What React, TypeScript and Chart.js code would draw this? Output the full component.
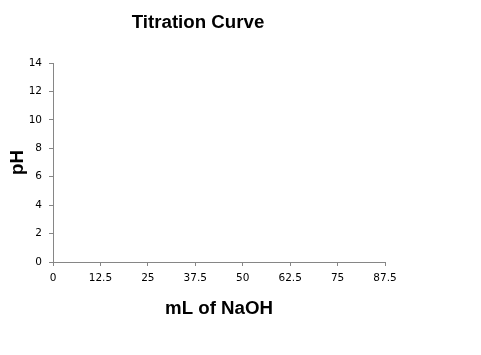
import React, { useEffect, useRef } from "react";
import { Chart, registerables } from "chart.js";

Chart.register(...registerables);

// Data (the reference chart shows no plotted points)
const volumeNaOH: number[] = [];
const phValues: number[] = [];
const xTicks = [0, 12.5, 25, 37.5, 50, 62.5, 75, 87.5];
const yTicks = [0, 2, 4, 6, 8, 10, 12, 14];
const chartTitle = "Titration Curve";
const xTitle = "mL of NaOH";
const yTitle = "pH";

const AXIS = "#868686";
const TICK_FONT = { family: "'DejaVu Sans', Verdana, sans-serif", size: 10.5 };
const TITLE_FONT = { family: "'Liberation Sans', Arial, sans-serif", size: 18.7, weight: "bold" as const, lineHeight: 1.2 };

const titlePlugin = {
  id: "chartTitleText",
  afterDraw(chart: Chart) {
    const ctx = chart.ctx;
    ctx.save();
    ctx.font = `bold ${TITLE_FONT.size}px ${TITLE_FONT.family}`;
    ctx.fillStyle = "#000";
    ctx.textAlign = "center";
    ctx.textBaseline = "middle";
    ctx.fillText(chartTitle, 198, 23);
    ctx.restore();
  },
};

export default function App() {
  const ref = useRef<HTMLCanvasElement | null>(null);
  useEffect(() => {
    if (!ref.current) return;
    const points = volumeNaOH.map((x, i) => ({ x, y: phValues[i] }));
    const chart = new Chart(ref.current, {
      type: "scatter",
      data: {
        datasets: [
          {
            label: yTitle,
            data: points,
            showLine: true,
            borderColor: "#4F81BD",
            backgroundColor: "#4F81BD",
            pointRadius: 0,
          },
        ],
      },
      options: {
        responsive: false,
        animation: false,
        layout: { padding: { top: 63, right: 96, left: 0, bottom: 0 } },
        plugins: { legend: { display: false }, tooltip: { enabled: false }, title: { display: false } },
        scales: {
          x: {
            type: "linear",
            min: xTicks[0],
            max: xTicks[xTicks.length - 1],
            afterBuildTicks: (s: any) => {
              s.ticks = xTicks.map((v) => ({ value: v }));
            },
            afterFit: (s: any) => {
              s.height = 93;
            },
            ticks: { color: "#000", font: TICK_FONT, padding: 6, maxRotation: 0, autoSkip: false, callback: (v: any) => String(v) },
            grid: { display: true, drawOnChartArea: false, drawTicks: true, tickLength: 4, color: AXIS },
            border: { display: true, color: AXIS, width: 1 },
            title: { display: true, text: xTitle, color: "#000", font: TITLE_FONT, padding: { top: 0, bottom: 35 } },
          },
          y: {
            type: "linear",
            min: yTicks[0],
            max: yTicks[yTicks.length - 1],
            afterBuildTicks: (s: any) => {
              s.ticks = yTicks.map((v) => ({ value: v }));
            },
            afterFit: (s: any) => {
              s.width = 53;
            },
            ticks: { color: "#000", font: TICK_FONT, padding: 7, autoSkip: false, callback: (v: any) => String(v) },
            grid: { display: true, drawOnChartArea: false, drawTicks: true, tickLength: 4, color: AXIS },
            border: { display: true, color: AXIS, width: 1 },
            title: { display: true, text: yTitle, color: "#000", font: TITLE_FONT, padding: { top: 7, bottom: 0 } },
          },
        },
      },
      plugins: [titlePlugin],
    });
    return () => chart.destroy();
  }, []);
  return (
    <div style={{ position: "absolute", left: 0, top: 0, width: 481, height: 355, background: "#fff" }}>
      <canvas ref={ref} width={481} height={355} style={{ display: "block" }} />
    </div>
  );
}
